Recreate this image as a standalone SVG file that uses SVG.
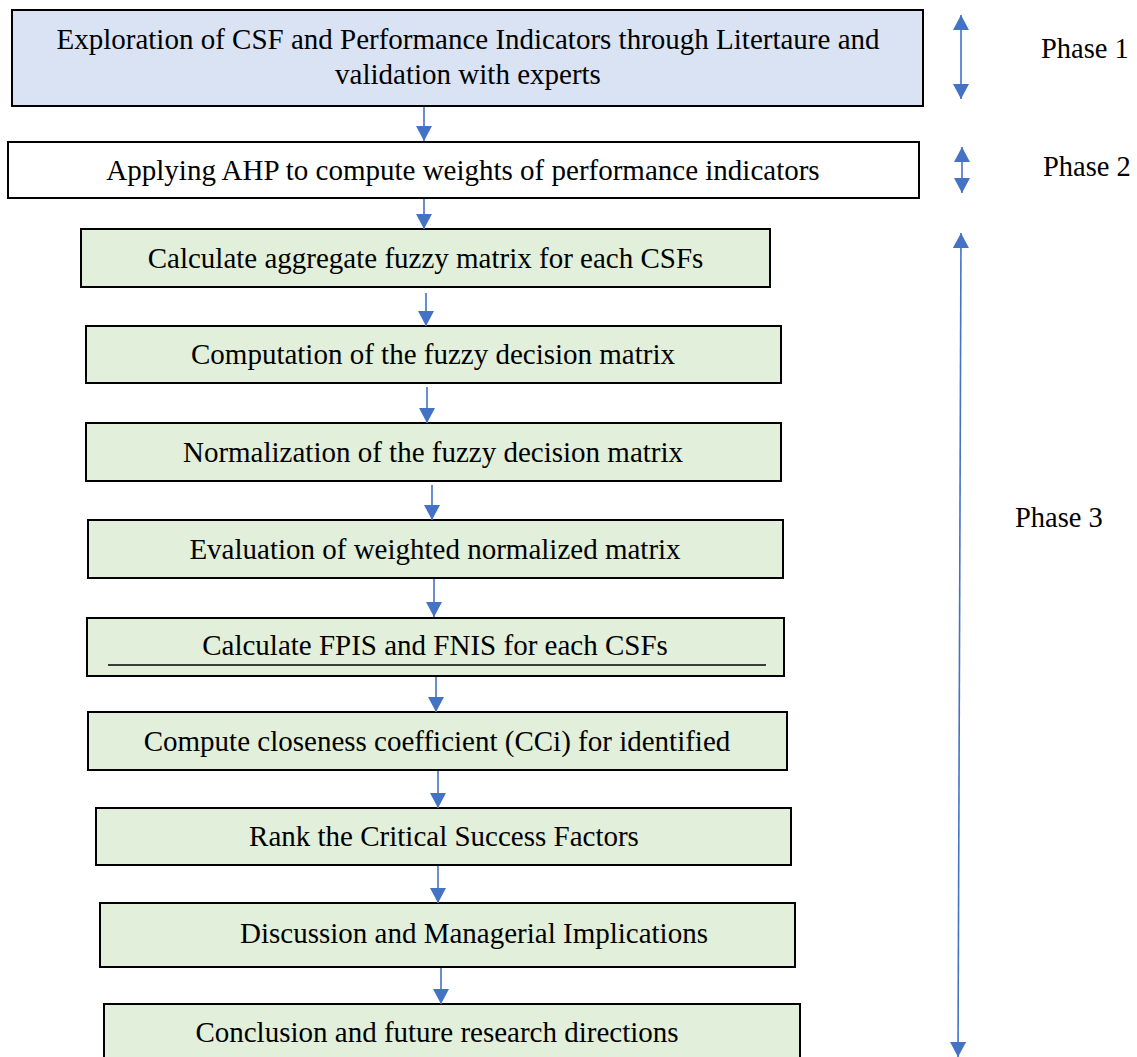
<svg xmlns="http://www.w3.org/2000/svg" width="1137" height="1057" viewBox="0 0 1137 1057">
  <style>
    .box { stroke: #000; stroke-width: 2; }
    .blue { fill: #dae3f3; }
    .white { fill: #ffffff; }
    .green { fill: #e2efda; }
    .lbl { font-family: "Liberation Serif", "Times New Roman", serif; font-size: 29px; fill: #000; text-anchor: middle; }
    .phase { font-family: "Liberation Serif", "Times New Roman", serif; font-size: 28.5px; fill: #000; }
    .conn { stroke: #4472c4; stroke-width: 1.6; fill: none; }
  </style>
  <defs>
    <marker id="head" markerUnits="userSpaceOnUse" markerWidth="16" markerHeight="16" viewBox="0 0 15 16" refX="15" refY="8" orient="auto-start-reverse">
      <path d="M0,0 L15,8 L0,16 Z" fill="#4472c4"/>
    </marker>
  </defs>

  <g id="node-1">
    <rect class="box blue" x="12" y="10" width="911" height="96"/>
    <text class="lbl" x="468" y="49">Exploration of CSF and Performance Indicators through Litertaure and</text>
    <text class="lbl" x="468" y="84">validation with experts</text>
  </g>
  <g id="node-2">
    <rect class="box white" x="8" y="142" width="911" height="56"/>
    <text class="lbl" x="463" y="180">Applying AHP to compute weights of performance indicators</text>
  </g>
  <g id="node-3">
    <rect class="box green" x="81" y="229" width="689" height="58"/>
    <text class="lbl" x="425.5" y="268">Calculate aggregate fuzzy matrix for each CSFs</text>
  </g>
  <g id="node-4">
    <rect class="box green" x="86" y="326" width="695" height="57"/>
    <text class="lbl" x="433" y="364">Computation of the fuzzy decision matrix</text>
  </g>
  <g id="node-5">
    <rect class="box green" x="86" y="423" width="695" height="58"/>
    <text class="lbl" x="433" y="462">Normalization of the fuzzy decision matrix</text>
  </g>
  <g id="node-6">
    <rect class="box green" x="88" y="520" width="695" height="58"/>
    <text class="lbl" x="435" y="559">Evaluation of weighted normalized matrix</text>
  </g>
  <g id="node-7">
    <rect class="box green" x="87" y="618" width="697" height="58"/>
    <text class="lbl" x="435" y="655">Calculate FPIS and FNIS for each CSFs</text>
    <line x1="108" y1="665" x2="766" y2="665" stroke="#000" stroke-width="1.5"/>
  </g>
  <g id="node-8">
    <rect class="box green" x="88" y="712" width="699" height="58"/>
    <text class="lbl" x="437" y="751">Compute closeness coefficient (CCi) for identified</text>
  </g>
  <g id="node-9">
    <rect class="box green" x="96" y="808" width="695" height="57"/>
    <text class="lbl" x="444" y="846">Rank the Critical Success Factors</text>
  </g>
  <g id="node-10">
    <rect class="box green" x="100" y="903" width="695" height="64"/>
    <text class="lbl" x="474" y="943">Discussion and Managerial Implications</text>
  </g>
  <g id="node-11">
    <rect class="box green" x="104" y="1004" width="696" height="60"/>
    <text class="lbl" x="437" y="1042">Conclusion and future research directions</text>
  </g>

  <g id="phase-labels">
    <text class="phase" x="1041" y="58">Phase 1</text>
    <text class="phase" x="1043" y="176">Phase 2</text>
    <text class="phase" x="1015" y="527">Phase 3</text>
  </g>

  <g id="connectors">
    <line class="conn" x1="424" y1="107" x2="424" y2="141" marker-end="url(#head)"/>
    <line class="conn" x1="424" y1="199" x2="424" y2="229" marker-end="url(#head)"/>
    <line class="conn" x1="426" y1="293" x2="426" y2="326" marker-end="url(#head)"/>
    <line class="conn" x1="427" y1="387" x2="427" y2="423" marker-end="url(#head)"/>
    <line class="conn" x1="432" y1="485" x2="432" y2="520" marker-end="url(#head)"/>
    <line class="conn" x1="434" y1="579" x2="434" y2="617" marker-end="url(#head)"/>
    <line class="conn" x1="436" y1="677" x2="436" y2="712" marker-end="url(#head)"/>
    <line class="conn" x1="438" y1="771" x2="438" y2="808" marker-end="url(#head)"/>
    <line class="conn" x1="438" y1="866" x2="438" y2="903" marker-end="url(#head)"/>
    <line class="conn" x1="441" y1="968" x2="441" y2="1004" marker-end="url(#head)"/>

    <line class="conn" x1="961" y1="15" x2="961" y2="99" marker-start="url(#head)" marker-end="url(#head)"/>
    <line class="conn" x1="962" y1="147" x2="962" y2="193" marker-start="url(#head)" marker-end="url(#head)"/>
    <line class="conn" x1="961" y1="233" x2="958" y2="1057" marker-start="url(#head)" marker-end="url(#head)"/>
  </g>
</svg>
